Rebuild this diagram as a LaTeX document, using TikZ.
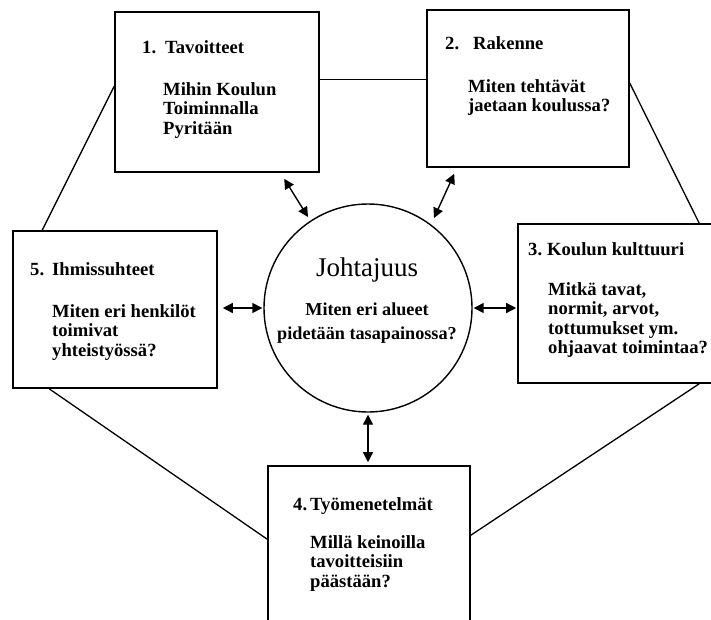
\documentclass[tikz,border=0pt]{standalone}
\usepackage{fontspec}
\setmainfont{Liberation Serif}
\usetikzlibrary{arrows.meta,calc}

% lines of a text block, first baseline = block baseline
\newcommand\rows[1]{\vtop{\baselineskip=19.5pt\lineskiplimit=-20pt\halign{##\hfil\cr#1\crcr}}}
\newcommand\crows[1]{\vtop{\baselineskip=24pt\lineskiplimit=-20pt\halign{\hfil##\hfil\cr#1\crcr}}}

\begin{document}
\begin{tikzpicture}[x=1pt,y=-1pt,
  box/.style={draw,line width=1.6pt,rectangle,inner sep=0pt},
  hub/.style={draw,line width=1.4pt,circle,inner sep=0pt,minimum size=208pt},
  txt/.style={anchor=base west,inner sep=0pt,font=\fontsize{18.6}{19.5}\selectfont\bfseries},
  link/.style={line width=1.3pt},
  dbl/.style={line width=1.4pt,{Triangle[length=10pt,width=10pt]}-{Triangle[length=10pt,width=10pt]}}]
\useasboundingbox (0,0) rectangle (711,619);
\clip (0,0) rectangle (711,619);

% boxes and the central circle
\node[box,minimum width=204pt,minimum height=160pt] (b1) at (217,92) {};
\node[box,minimum width=202pt,minimum height=157pt] (b2) at (528,88.5) {};
\node[box,minimum width=200pt,minimum height=159pt] (b3) at (618,303.5) {};
\node[box,minimum width=202pt,minimum height=162pt] (b4) at (369,547) {};
\node[box,minimum width=204pt,minimum height=157pt] (b5) at (115,309.5) {};
\node[hub] (c) at (368,308) {};

% outer ring of connecting lines
\draw[link] ($(b1.north east)+(0,68)$) -- ($(b2.north west)+(0,70)$);
\draw[link] ($(b1.north west)+(0,75)$) -- ($(b5.north west)+(30,0)$);
\draw[link] ($(b2.north east)+(0,74)$) -- ($(b3.north west)+(182,0)$);
\draw[link] ($(b3.south west)+(182,0)$) -- ($(b4.north east)+(0,70)$);
\draw[link] ($(b5.south west)+(37,0)$) -- ($(b4.north west)+(0,74)$);

% two-way arrows to the centre
\draw[dbl] ($(b1.south west)+(170,6)$) -- ($(c.center)+(-60,-91)$);
\draw[dbl] ($(b2.south west)+(28,6)$) -- ($(c.center)+(66,-90)$);
\draw[dbl] ($(b5.east |- c.west)+(5,0)$) -- ($(c.west)+(-1,0)$);
\draw[dbl] ($(c.east)+(1,0)$) -- ($(c.east -| b3.west)+(-1,0)$);
\draw[dbl] ($(c.south)+(0,2)$) -- ($(c.south |- b4.north)+(0,-3)$);

% texts
\node[txt] (t1) at (142,53) {\makebox[23pt][l]{1.}Tavoitteet};
\node[txt] (s1) at (163,95) {\rows{Mihin Koulun\cr Toiminnalla\cr Pyritään}};

\node[txt] (t2) at (445,49) {\makebox[28pt][l]{2.}Rakenne};
\node[txt] (s2) at (468,92) {\rows{Miten tehtävät\cr jaetaan koulussa?}};

\node[txt] (t3) at (528,255) {\makebox[19pt][l]{3.}Koulun kulttuuri};
\node[txt] (s3) at (548,295) {\rows{Mitkä tavat,\cr normit, arvot,\cr tottumukset ym.\cr ohjaavat toimintaa?}};

\node[txt] (t4) at (293,510) {\makebox[17pt][l]{4.}Työmenetelmät};
\node[txt] (s4) at (310,548) {\rows{Millä keinoilla\cr tavoitteisiin\cr päästään?}};

\node[txt] (t5) at (30,275) {\makebox[22pt][l]{5.}Ihmissuhteet};
\node[txt] (s5) at (52,317) {\rows{Miten eri henkilöt\cr toimivat\cr yhteistyössä?}};

\node[anchor=base,inner sep=0pt,font=\fontsize{27}{30}\selectfont] (h) at (367,276) {Johtajuus};
\node[anchor=base,inner sep=0pt,font=\fontsize{18.2}{19.5}\selectfont\bfseries] (hs) at (367,315) {\crows{Miten eri alueet\cr pidetään tasapainossa?}};
\end{tikzpicture}
\end{document}
